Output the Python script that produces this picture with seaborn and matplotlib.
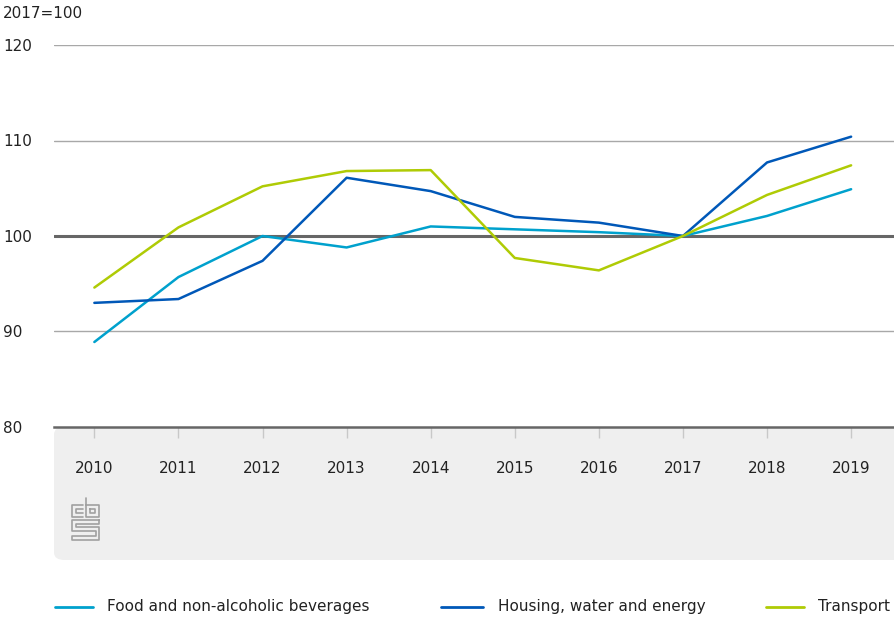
import pandas as pd
import seaborn as sns
import matplotlib.pyplot as plt
from matplotlib.patches import FancyBboxPatch
from matplotlib.lines import Line2D

years = [2010, 2011, 2012, 2013, 2014, 2015, 2016, 2017, 2018, 2019]
food = [88.9, 95.7, 100.0, 98.8, 101.0, 100.7, 100.4, 100.0, 102.1, 104.9]
housing = [93.0, 93.4, 97.4, 106.1, 104.7, 102.0, 101.4, 100.0, 107.7, 110.4]
transport = [94.6, 100.9, 105.2, 106.8, 106.9, 97.7, 96.4, 100.0, 104.3, 107.4]
series_names = ["Food and non-alcoholic beverages", "Housing, water and energy", "Transport"]
colors = ["#00a1cd", "#0058b8", "#afcb05"]

df = pd.DataFrame({"year": years * 3,
                   "value": food + housing + transport,
                   "series": [n for n in series_names for _ in years]})

sns.set_style("white")
plt.rcParams["font.family"] = ["DejaVu Sans"]

fig = plt.figure(figsize=(8.94, 6.17), dpi=100)
W, H = 894, 617
PX = 72 / 100  # points per pixel

# grey footer panel behind the x labels
panel = FancyBboxPatch((54 / W, (H - 560) / H), (860 - 54) / W + 0.1, (560 - 427) / H,
                       boxstyle="round,pad=0,rounding_size=0.012",
                       transform=fig.transFigure, facecolor="#efefef",
                       edgecolor="none", zorder=-5)
fig.patches.append(panel)

ax = fig.add_axes([54 / W, (H - 427) / H, 1 - 54 / W, (427 - 45) / H])
ax.patch.set_alpha(0)

for y in [90, 110, 120]:
    ax.axhline(y, color="#a8a8a8", lw=1, zorder=1)
ax.axhline(100, color="#666666", lw=2.2, zorder=1)

sns.lineplot(data=df, x="year", y="value", hue="series", palette=colors,
             lw=1.8, ax=ax, legend=False, zorder=3)

ax.set_xlim(2009.52, 2019.51)
ax.set_ylim(80, 120)
ax.set_yticks([80, 90, 100, 110, 120])
ax.set_xticks(years)
ax.set_xlabel("")
ax.set_ylabel("")
for s in ["top", "right", "left"]:
    ax.spines[s].set_visible(False)
ax.spines["bottom"].set_color("#666666")
ax.spines["bottom"].set_linewidth(1.8)
ax.tick_params(axis="y", left=False, length=0, labelsize=11, labelcolor="#222222",
               pad=51 * PX)
for lab in ax.get_yticklabels():
    lab.set_horizontalalignment("left")
ax.tick_params(axis="x", bottom=True, direction="out", length=11 * PX, width=1,
               color="#c8c8c8", labelsize=11, labelcolor="#222222", pad=23 * PX)

fig.text(3 / W, 1 - 13 / H, "2017=100", fontsize=11, color="#222222", va="center")

# cbs logo, rough outline
lc = "#a0a0a0"
def seg(xs, ys):
    fig.lines.append(Line2D([x / W for x in xs], [1 - y / H for y in ys],
                            color=lc, lw=1.2, transform=fig.transFigure))
seg([83, 72, 72, 83], [505, 505, 517, 517])
seg([83, 76, 76, 83], [509, 509, 513, 513])
seg([86, 86, 99, 99, 86], [498, 517, 517, 505, 505])
seg([90, 90, 95, 95, 90], [509, 513, 513, 509, 509])
seg([99, 72, 72, 96, 96, 72, 72, 99, 99, 76, 76, 99, 99], [520, 520, 531, 531, 536, 536, 540, 540, 527, 527, 524, 524, 520])

# legend
leg_y = 1 - 607 / H
for (x0, x1, tx), name, c in zip([(55, 93, 107), (441, 483, 498), (766, 804, 818)],
                                 series_names, colors):
    fig.lines.append(Line2D([x0 / W, x1 / W], [leg_y, leg_y], color=c, lw=2,
                            transform=fig.transFigure))
    fig.text(tx / W, leg_y, name, fontsize=11, color="#222222", va="center")

fig.savefig("out.png", dpi=100)
